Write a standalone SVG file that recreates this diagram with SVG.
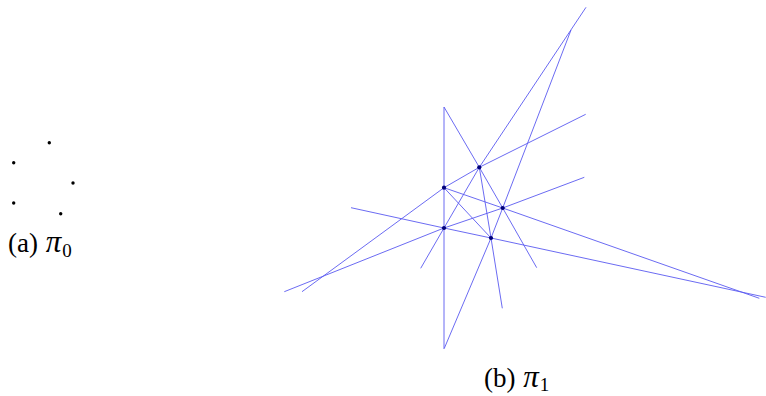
<svg xmlns="http://www.w3.org/2000/svg" width="766" height="396" viewBox="0 0 766 396">
<style>
.ln{fill:none;stroke:#5a5af0;stroke-width:0.9;stroke-linejoin:round}
.d0{fill:#000}
.d1{fill:#00007a}
.t{font-family:"Liberation Serif","Times New Roman",serif;font-size:27px;fill:#000}
.pi{font-style:italic;font-size:31px}
.sub{font-size:19px}
</style>
<rect width="766" height="396" fill="#fff"/>
<g id="pi0">
<circle class="d0" cx="49.3" cy="142.7" r="1.7"/>
<circle class="d0" cx="13.7" cy="162.7" r="1.7"/>
<circle class="d0" cx="73" cy="183" r="1.7"/>
<circle class="d0" cx="13.7" cy="203" r="1.7"/>
<circle class="d0" cx="60.7" cy="213.7" r="1.7"/>
<text class="t" x="8" y="252">(a) <tspan class="pi" dx="1">π</tspan><tspan class="sub" dx="1" dy="5">0</tspan></text>
</g>
<g id="connectors">
<path class="ln" d="M444,107 V349"/>
<path class="ln" d="M444,107 L479.3,167.3 L502.7,208 L536.7,267.7"/>
<path class="ln" d="M586,7.3 L479.3,167.3 L444,228 L420.7,268.3"/>
<path class="ln" d="M571,30 L502.7,208 L491,238 L444.3,348.3"/>
<path class="ln" d="M479.3,167.3 L491,238 L502.3,308.3"/>
<path class="ln" d="M585.7,114.3 L479.3,167.3 L444,187.7 L302,291.7"/>
<path class="ln" d="M584.3,177.3 L502.7,208 L444,228 L284.3,291.7"/>
<path class="ln" d="M444,187.7 L502.7,208 L759.3,298.3"/>
<path class="ln" d="M351,207.7 L444,228 L491,238 L765.7,297.3"/>
<path class="ln" d="M444,187.7 L491,238"/>
</g>
<g id="p1"><circle class="d1" cx="479.3" cy="167.3" r="2.1"/></g>
<g id="p2"><circle class="d1" cx="444" cy="187.7" r="2.1"/></g>
<g id="p3"><circle class="d1" cx="502.7" cy="208" r="2.1"/></g>
<g id="p4"><circle class="d1" cx="444" cy="228" r="2.1"/></g>
<g id="p5"><circle class="d1" cx="491" cy="238" r="2.1"/></g>
<g id="caption-b">
<text class="t" x="484" y="387">(b) <tspan class="pi" dx="1">π</tspan><tspan class="sub" dx="1" dy="4">1</tspan></text>
</g>
</svg>
